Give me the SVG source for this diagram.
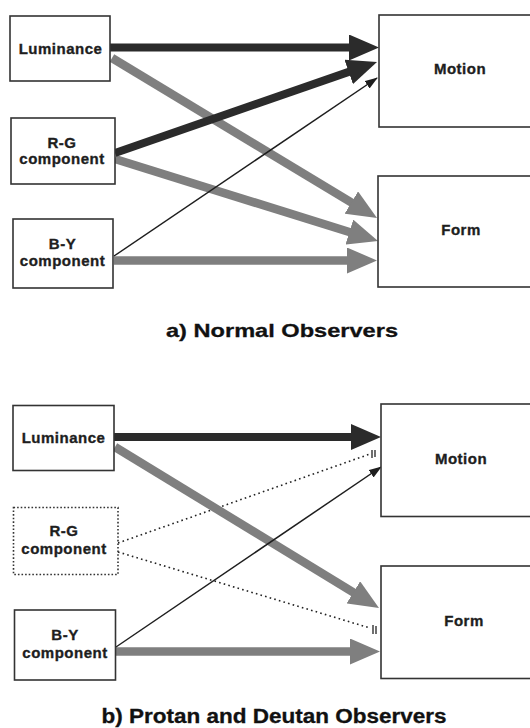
<svg xmlns="http://www.w3.org/2000/svg" width="530" height="728" viewBox="0 0 530 728">
<style>
.box{fill:#fff;stroke:#333;stroke-width:1.6}
.dotbox{fill:#fff;stroke:#333;stroke-width:1.6;stroke-dasharray:1.6 2}
.lbl{font-family:"Liberation Sans",Arial,sans-serif;font-weight:bold;font-size:15px;letter-spacing:0.5px;fill:#1e1e1e;stroke:#1e1e1e;stroke-width:0.35;text-anchor:middle}
.cap{font-family:"Liberation Sans",Arial,sans-serif;font-weight:bold;fill:#111;stroke:#111;stroke-width:0.3;text-anchor:middle}
.dark{stroke:#2b2b2b;stroke-width:8;fill:none;marker-end:url(#hd)}
.gray{stroke:#7f7f7f;stroke-width:8.5;fill:none;marker-end:url(#hg)}
.thin{stroke:#1e1e1e;stroke-width:1.5;fill:none;marker-end:url(#ht)}
.dots{stroke:#222;stroke-width:1.6;fill:none;stroke-dasharray:1.6 3.2}
.tick{stroke:#333;stroke-width:1.4}
</style>
<defs>
<marker id="hd" markerUnits="userSpaceOnUse" markerWidth="30" markerHeight="26" refX="10" refY="13" orient="auto"><path d="M0,0 L30,13 L0,26 z" fill="#2b2b2b"/></marker>
<marker id="hg" markerUnits="userSpaceOnUse" markerWidth="30" markerHeight="26" refX="10" refY="13" orient="auto"><path d="M0,0 L30,13 L0,26 z" fill="#7f7f7f"/></marker>
<marker id="ht" markerUnits="userSpaceOnUse" markerWidth="13" markerHeight="9" refX="12" refY="4.5" orient="auto"><path d="M0,0 L13,4.5 L0,9 z" fill="#1e1e1e"/></marker>
</defs>

<g id="connectors">
<!-- panel a -->
<line class="gray" x1="112" y1="58" x2="359.9" y2="207.7"/>
<line class="gray" x1="115" y1="159" x2="358.9" y2="235"/>
<line class="gray" x1="114" y1="260.5" x2="357" y2="260.5"/>
<line class="thin" x1="114" y1="256" x2="377" y2="78"/>
<line class="dark" x1="115" y1="153" x2="358.1" y2="68.6"/>
<line class="dark" x1="110" y1="47.5" x2="359" y2="47.5"/>
<!-- panel b -->
<line class="dots" x1="118" y1="543" x2="370" y2="454"/>
<line class="tick" x1="372" y1="450" x2="372" y2="458"/>
<line class="tick" x1="375" y1="450" x2="375" y2="457"/>
<line class="dots" x1="118" y1="552" x2="370" y2="628"/>
<line class="tick" x1="373" y1="625" x2="373" y2="634"/>
<line class="tick" x1="376" y1="626" x2="376" y2="634"/>
<line class="gray" x1="115" y1="447" x2="361.9" y2="597.6"/>
<line class="gray" x1="116" y1="651.5" x2="360" y2="651.5"/>
<line class="thin" x1="116" y1="647" x2="381" y2="467"/>
<line class="dark" x1="114" y1="437" x2="361" y2="437"/>
</g>

<g id="a-luminance"><rect class="box" x="10" y="16" width="100" height="65"/><text class="lbl" x="60.5" y="53.5">Luminance</text></g>
<g id="a-rg"><rect class="box" x="11" y="118" width="104" height="66"/><text class="lbl" x="62" y="147.5">R-G</text><text class="lbl" x="62" y="163.5">component</text></g>
<g id="a-by"><rect class="box" x="13" y="219" width="100" height="69"/><text class="lbl" x="62.5" y="249">B-Y</text><text class="lbl" x="62.5" y="265.5">component</text></g>
<g id="a-motion"><rect class="box" x="379" y="15" width="160" height="112"/><text class="lbl" x="460" y="74">Motion</text></g>
<g id="a-form"><rect class="box" x="378" y="176" width="160" height="111"/><text class="lbl" x="461" y="235">Form</text></g>
<g id="a-caption"><text class="cap" x="282" y="337" font-size="19" textLength="232" lengthAdjust="spacingAndGlyphs">a) Normal Observers</text></g>

<g id="b-luminance"><rect class="box" x="13" y="405.5" width="101" height="65"/><text class="lbl" x="63.5" y="442.5">Luminance</text></g>
<g id="b-rg"><rect class="dotbox" x="13.5" y="507.5" width="104.5" height="67"/><text class="lbl" x="64" y="536">R-G</text><text class="lbl" x="64" y="554">component</text></g>
<g id="b-by"><rect class="box" x="14.5" y="610" width="101" height="70"/><text class="lbl" x="65" y="640">B-Y</text><text class="lbl" x="65" y="657.5">component</text></g>
<g id="b-motion"><rect class="box" x="381" y="404" width="160" height="112.5"/><text class="lbl" x="461" y="463.5">Motion</text></g>
<g id="b-form"><rect class="box" x="381" y="566" width="160" height="112.5"/><text class="lbl" x="464" y="626">Form</text></g>
<g id="b-caption"><text class="cap" x="274" y="723" font-size="20" textLength="345" lengthAdjust="spacingAndGlyphs">b) Protan and Deutan Observers</text></g>
</svg>
